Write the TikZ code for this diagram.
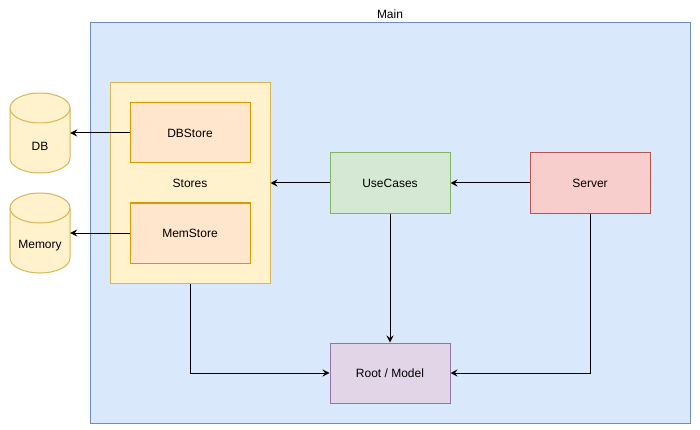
\documentclass[tikz,border=0pt]{standalone}
\usepackage{fontspec}
\setmainfont{Liberation Sans}
\usetikzlibrary{arrows.meta}
\definecolor{blueF}{HTML}{DAE8FC}\definecolor{blueS}{HTML}{6C8EBF}
\definecolor{yelF}{HTML}{FFF2CC}\definecolor{yelS}{HTML}{D6B656}
\definecolor{oraF}{HTML}{FFE6CC}\definecolor{oraS}{HTML}{D79B00}
\definecolor{grnF}{HTML}{D5E8D4}\definecolor{grnS}{HTML}{82B366}
\definecolor{redF}{HTML}{F8CECC}\definecolor{redS}{HTML}{B85450}
\definecolor{purF}{HTML}{E1D5E7}\definecolor{purS}{HTML}{9673A6}
\tikzset{
  lbl/.style={font=\fontsize{12}{14}\selectfont, inner sep=0pt, text=black},
  box/.style={lbl, draw, line width=1pt, minimum width=120pt, minimum height=60pt},
  ghost/.style={inner sep=0pt, minimum width=60pt, minimum height=80pt},
  cyl/.style={fill=yelF, draw=yelS, line width=1pt},
  arr/.style={-{Stealth[length=7pt,width=7pt,inset=2.5pt]}, line width=1pt, draw=black},
}
\begin{document}
\begin{tikzpicture}[x=1pt,y=-1pt]
\useasboundingbox (0,0) rectangle (700,430);
% Main container
\node[lbl, draw=blueS, fill=blueF, line width=1pt, minimum width=600pt, minimum height=400pt] (main) at (390,223) {};
\node[lbl] (mainlabel) at (390,14) {Main};
% Stores
\node[box, draw=yelS, fill=yelF, minimum width=160pt, minimum height=200pt] (stores) at (190,183) {Stores};
\node[box, draw=oraS, fill=oraF] (dbstore) at (190,133) {DBStore};
\node[box, draw=oraS, fill=oraF] (memstore) at (190,233) {MemStore};
% other boxes
\node[box, draw=grnS, fill=grnF] (usecases) at (390,183) {UseCases};
\node[box, draw=redS, fill=redF] (server) at (590,183) {Server};
\node[box, draw=purS, fill=purF] (root) at (390,373) {Root / Model};
% DB cylinder
\draw[cyl] (10,108) .. controls (10,99.7) and (23.4,93) .. (40,93) .. controls (56.6,93) and (70,99.7) .. (70,108)
  -- (70,158) .. controls (70,166.3) and (56.6,173) .. (40,173) .. controls (23.4,173) and (10,166.3) .. (10,158) -- cycle;
\draw[cyl, fill=none] (10,108) .. controls (10,116.3) and (23.4,123) .. (40,123) .. controls (56.6,123) and (70,116.3) .. (70,108);
\node[ghost] (db) at (40,133) {};
\node[lbl] (dblabel) at (40,146) {DB};
% Memory cylinder
\draw[cyl] (10,208) .. controls (10,199.7) and (23.4,193) .. (40,193) .. controls (56.6,193) and (70,199.7) .. (70,208)
  -- (70,258) .. controls (70,266.3) and (56.6,273) .. (40,273) .. controls (23.4,273) and (10,266.3) .. (10,258) -- cycle;
\draw[cyl, fill=none] (10,208) .. controls (10,216.3) and (23.4,223) .. (40,223) .. controls (56.6,223) and (70,216.3) .. (70,208);
\node[ghost] (mem) at (40,233) {};
\node[lbl] (memlabel) at (40,246) {Memory};
% connectors
\draw[arr] (dbstore.west) -- (db.east);
\draw[arr] (memstore.west) -- (mem.east);
\draw[arr] (usecases.west) -- (stores.east);
\draw[arr] (server.west) -- (usecases.east);
\draw[arr] (usecases.south) -- (root.north);
\draw[arr] (stores.south) |- (root.west);
\draw[arr] (server.south) |- (root.east);
\end{tikzpicture}
\end{document}
